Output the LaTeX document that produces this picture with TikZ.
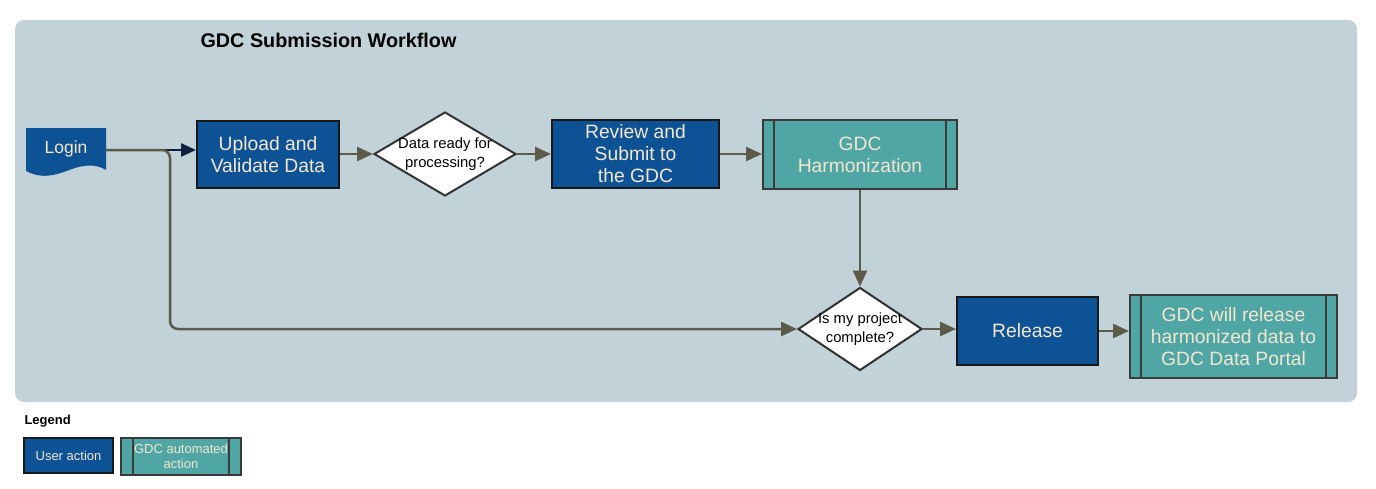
\documentclass[tikz,border=0pt]{standalone}
\usepackage{fontspec}
\setmainfont{Liberation Sans}
\usetikzlibrary{shapes.geometric,arrows.meta,calc}
\definecolor{panel}{RGB}{193,210,217}
\definecolor{ublue}{RGB}{14,82,150}
\definecolor{teal}{RGB}{79,166,165}
\definecolor{cream}{RGB}{243,231,208}
\definecolor{arr}{RGB}{92,90,72}
\definecolor{navy}{RGB}{16,30,64}
\definecolor{tborder}{RGB}{58,58,58}
\tikzset{
  x=1pt,y=-1pt,
  userbox/.style={draw=black!90, line width=2pt, fill=ublue, text=cream, inner sep=0pt, align=center,
    font=\fontsize{19.3}{22}\selectfont},
  autobox/.style={draw=tborder, line width=2pt, fill=teal, text=cream, inner sep=0pt, align=center,
    font=\fontsize{19.3}{22}\selectfont,
    path picture={\draw[tborder, line width=2pt]
      ([xshift=#1]path picture bounding box.north west) -- ([xshift=#1]path picture bounding box.south west)
      ([xshift=-#1]path picture bounding box.north east) -- ([xshift=-#1]path picture bounding box.south east);}},
  decision/.style={diamond, draw=black!80, line width=2pt, fill=white, inner sep=0pt},
  dtext/.style={align=center, font=\fontsize{14.8}{19}\selectfont, text=black},
  flow/.style={draw=arr, line width=2.5pt, -{Triangle[length=16pt,width=14pt]}},
}
\begin{document}
\begin{tikzpicture}
\useasboundingbox (0,0) rectangle (1376,488);
\fill[panel, rounded corners=9pt] (15,20) rectangle (1357,402);
\node[font=\bfseries\fontsize{19.8}{22}\selectfont] (title) at (328.5,40) {GDC Submission Workflow};

% Login document shape
\fill[ublue] (26,128) -- (106,128) -- (106,170)
  .. controls (98,165) and (88,164) .. (75,168)
  .. controls (60,173) and (45,181) .. (26,171) -- cycle;
\node[text=cream, font=\fontsize{17.5}{20}\selectfont] (login) at (66,149) {Login};
\coordinate (loginout) at (106,150);

\node[userbox, minimum width=142pt, minimum height=67pt] (upload) at (268,154.5) {Upload and\\Validate Data};
\node[decision, minimum width=142pt, minimum height=84pt] (d1) at (445,154) {};
\node[dtext] (d1t) at (d1) {Data ready for\\processing?};
\node[userbox, minimum width=167pt, minimum height=68pt] (review) at (635.5,154) {Review and\\Submit to\\the GDC};
\node[autobox=11pt, minimum width=194pt, minimum height=69pt] (harm) at (860,154.5) {GDC\\Harmonization};

\node[decision, minimum width=124pt, minimum height=83pt] (d2) at (860,329) {};
\node[dtext] (d2t) at (d2) {Is my project\\complete?};
\node[userbox, minimum width=141pt, minimum height=68pt] (release) at (1027.5,331) {Release};
\node[autobox=11pt, minimum width=207pt, minimum height=83pt] (gdcrel) at (1233.5,336.5) {GDC will release\\harmonized data to\\GDC Data Portal};

% connectors
\draw[draw=navy, line width=2.5pt, -{Triangle[length=15pt,width=13pt]}] (loginout) -- (loginout -| upload.west);
\draw[flow, rounded corners=8pt] (loginout) -- (170,150) -- (170,329) -- (d2.west);
\draw[flow] (upload.east |- d1.west) -- (d1.west);
\draw[flow] (d1.east) -- (review.west |- d1.east);
\draw[flow] (review.east) -- (harm.west |- review.east);
\draw[flow] (harm.south) -- (d2.north);
\draw[flow] (d2.east) -- (release.west |- d2.east);
\draw[flow] (release.east) -- (gdcrel.west |- release.east);

% legend
\node[anchor=west, font=\bfseries\fontsize{13}{15}\selectfont] (legend) at (21,421) {Legend};
\node[userbox, minimum width=89pt, minimum height=35pt, font=\fontsize{13}{15}\selectfont] (luser) at (68.5,455.5) {User action};
\node[autobox=12pt, minimum width=120pt, minimum height=37pt, font=\fontsize{13}{15}\selectfont] (lauto) at (181,456.5) {GDC automated\\action};
\end{tikzpicture}
\end{document}
